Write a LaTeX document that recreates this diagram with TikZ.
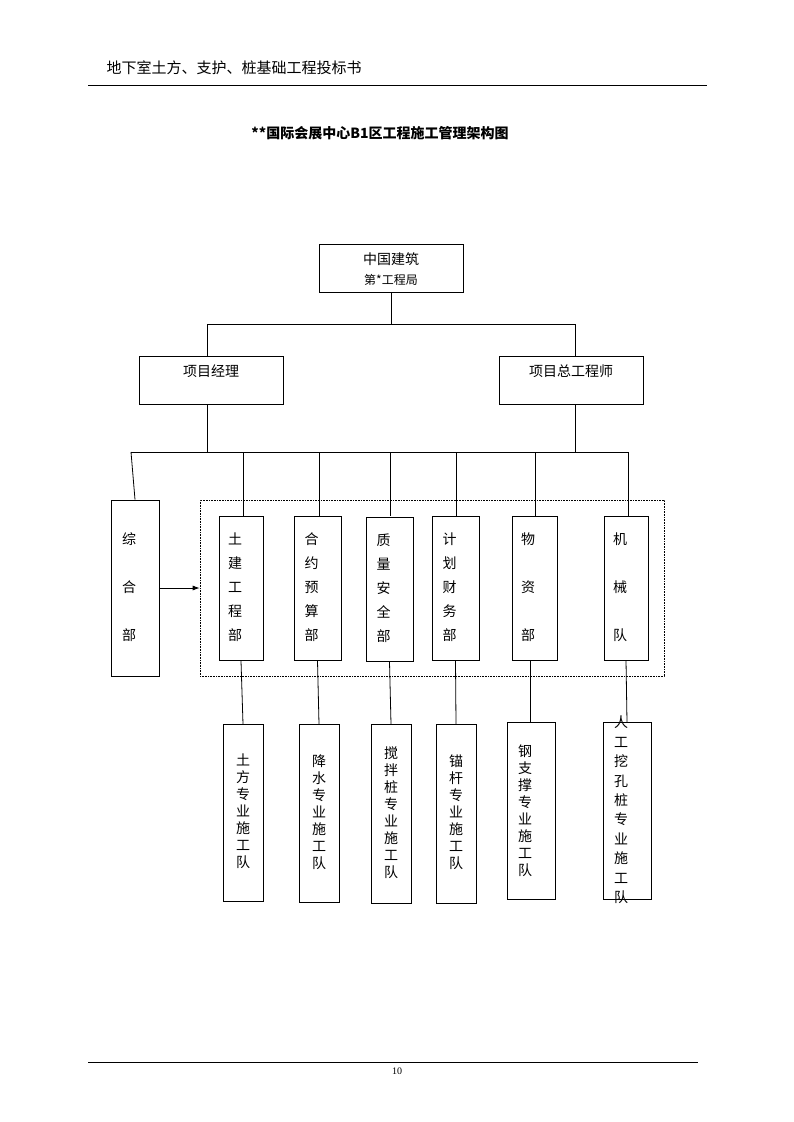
\documentclass[tikz,border=0pt]{standalone}
\usepackage{fontspec}
\setmainfont{Liberation Serif}
\newfontfamily\cjk{Noto Sans CJK SC}
\usetikzlibrary{arrows.meta}
\begin{document}
\begin{tikzpicture}[x=1pt,y=-1pt,
  box/.style={draw,line width=0.8pt,inner sep=0pt},
  ln/.style={line width=0.8pt},
  ch/.style={font=\cjk\fontsize{14}{24}\selectfont,align=center,anchor=north},
  lw/.style={font=\cjk\fontsize{14}{17}\selectfont,align=center}]
\useasboundingbox (0,0) rectangle (793,1122);
\node[font=\cjk\fontsize{15}{18}\selectfont,anchor=west] (hdr) at (103,68) {地下室土方、支护、桩基础工程投标书};
\draw[line width=0.6pt] (88,85) -- (707,85);
\node[font=\cjk\bfseries\fontsize{14}{18}\selectfont] (title) at (380,133) {**国际会展中心B1区工程施工管理架构图};
% top
\node[box,minimum width=144,minimum height=48] (top) at (391,268) {};
\node[font=\cjk\fontsize{14}{18}\selectfont] at (391,259) {中国建筑};
\node[font=\cjk\fontsize{12}{14}\selectfont] at (391,280) {第*工程局};
\node[box,minimum width=144,minimum height=48] (pm) at (211,380) {};
\node[font=\cjk\fontsize{14}{18}\selectfont] at (211,371) {项目经理};
\node[box,minimum width=144,minimum height=48] (ce) at (571,380) {};
\node[font=\cjk\fontsize{14}{18}\selectfont] at (571,371) {项目总工程师};
\coordinate (j1) at (391,324);
\draw[ln] (top.south) -- (j1);
\draw[ln] (207,356) -- (207,324) -- (575,324) -- (575,356);
\draw[ln] (207,404) -- (207,452);
\draw[ln] (575,404) -- (575,452);
\draw[ln] (131,452) -- (628,452);
% zonghe
\node[box,minimum width=48,minimum height=176] (zh) at (135,588) {};
\node[ch] at (129,529) {综\\[24pt]合\\[24pt]部};
\draw[ln] (131,452) -- (zh.north);
\node[draw,densely dotted,line width=0.6pt,minimum width=464,minimum height=176,inner sep=0] (grp) at (432,588) {};
\draw[ln,-{Latex[length=7pt,width=5pt]}] (zh.east) -- (grp.west);
% departments
\foreach \n/\cx/\w/\t/\y in {d1/241/44/{土\\建\\工\\程\\部}/516, d2/317.5/47/{合\\约\\预\\算\\部}/516, d3/389.5/47/{质\\量\\安\\全\\部}/517, d4/455.5/47/{计\\划\\财\\务\\部}/516}{
  \node[box,minimum width=\w,minimum height=144,anchor=north] (\n) at (\cx,\y) {};
  \node[ch] at (\cx-6,\y+13) {\t};
}
\node[box,minimum width=45,minimum height=144,anchor=north] (d5) at (534.5,516) {};
\node[ch] at (528,529) {物\\[24pt]资\\[24pt]部};
\node[box,minimum width=44,minimum height=144,anchor=north] (d6) at (626,516) {};
\node[ch] at (620,529) {机\\[24pt]械\\[24pt]队};
\foreach \x/\d in {243/d1,319/d2,390/d3,456/d4,535/d5,628/d6}
  \draw[ln] (\x,452) -- (\x,516);
% lower boxes
\node[box,minimum width=40,minimum height=177,anchor=north] (t1) at (243,724) {};
\node[lw] at (243,811) {土\\方\\专\\业\\施\\工\\队};
\node[box,minimum width=40,minimum height=178,anchor=north] (t2) at (319,724) {};
\node[lw] at (319,812) {降\\水\\专\\业\\施\\工\\队};
\node[box,minimum width=40,minimum height=179,anchor=north] (t3) at (391,724) {};
\node[lw] at (391,813) {搅\\拌\\桩\\专\\业\\施\\工\\队};
\node[box,minimum width=40,minimum height=179,anchor=north] (t4) at (456,724) {};
\node[lw] at (456,812) {锚\\杆\\专\\业\\施\\工\\队};
\node[box,minimum width=48,minimum height=177,anchor=north] (t5) at (531,722) {};
\node[lw] at (525,811) {钢\\支\\撑\\专\\业\\施\\工\\队};
\node[box,minimum width=48,minimum height=177,anchor=north] (t6) at (627,722) {};
\node[lw,font=\cjk\fontsize{14}{19.4}\selectfont] at (621,810) {人\\工\\挖\\孔\\桩\\专\\业\\施\\工\\队};
\draw[ln] (d1.south) -- (t1.north);
\draw[ln] (d2.south) -- (t2.north);
\draw[ln] (d3.south) -- (t3.north);
\draw[ln] (d4.south) -- (t4.north);
\draw[ln] (530,660) -- (t5.north -| 530,0);
\draw[ln] (626,660) -- (t6.north);
% footer
\draw[line width=0.6pt] (88,1062) -- (698,1062);
\node[font=\fontsize{10}{12}\selectfont] (pg) at (397,1071) {10};
\end{tikzpicture}
\end{document}
